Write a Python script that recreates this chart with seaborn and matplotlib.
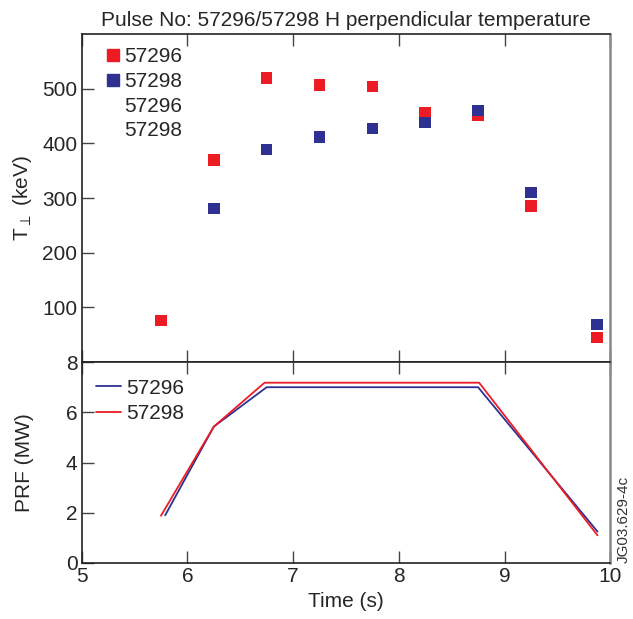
import matplotlib
matplotlib.use("Agg")
import matplotlib.pyplot as plt
from matplotlib.lines import Line2D
import seaborn as sns
import pandas as pd

# upper panel: H perpendicular temperature (keV)
time_pts = [5.75, 6.25, 6.75, 7.25, 7.75, 8.25, 8.75, 9.25, 9.875]
temp_57296 = [76, 370, 520, 507, 504, 456, 452, 286, 45]
time_57298 = [6.25, 6.75, 7.25, 7.75, 8.25, 8.75, 9.25, 9.875]
temp_57298 = [281, 389, 412, 427, 438, 460, 310, 69]

# lower panel: PRF (MW)
prf_time_57296 = [5.79, 6.25, 6.75, 8.75, 9.88]
prf_57296 = [1.9, 5.43, 7.0, 7.0, 1.25]
prf_time_57298 = [5.75, 6.25, 6.73, 8.76, 9.88]
prf_57298 = [1.88, 5.43, 7.18, 7.18, 1.1]

red = "#ED1C24"
blue = "#2E3192"

sns.set_theme(style="ticks")
plt.rcParams['font.family'] = ['Liberation Sans', 'DejaVu Sans']
plt.rcParams['mathtext.fontset'] = 'dejavusans'

df_t = pd.concat([
    pd.DataFrame({"Time": time_pts, "T": temp_57296, "Pulse": "57296"}),
    pd.DataFrame({"Time": time_57298, "T": temp_57298, "Pulse": "57298"}),
])
df_p = pd.concat([
    pd.DataFrame({"Time": prf_time_57296, "PRF": prf_57296, "Pulse": "57296"}),
    pd.DataFrame({"Time": prf_time_57298, "PRF": prf_57298, "Pulse": "57298"}),
])

fig = plt.figure(figsize=(6.33, 6.19), dpi=100)
ax1 = fig.add_axes([0.129, 0.415, 0.835, 0.530])
ax2 = fig.add_axes([0.129, 0.0905, 0.835, 0.3245], sharex=ax1)

fs = 15

sns.scatterplot(data=df_t, x="Time", y="T", hue="Pulse", marker="s", s=70,
                palette={"57296": red, "57298": blue}, linewidth=0,
                ax=ax1, legend=False)
ax1.set_xlim(5, 10)
ax1.set_ylim(0, 600)
ax1.set_yticks([100, 200, 300, 400, 500])
ax1.set_ylabel(r"T$_\perp$ (keV)", fontsize=fs)
ax1.set_xlabel("")
ax1.set_title("Pulse No: 57296/57298 H perpendicular temperature", fontsize=fs, pad=6)
ax1.tick_params(axis="x", labelbottom=False)

h = [Line2D([], [], marker="s", ls="", color=red, markersize=9),
     Line2D([], [], marker="s", ls="", color=blue, markersize=9),
     Line2D([], [], ls="", marker=""),
     Line2D([], [], ls="", marker="")]
ax1.legend(h, ["57296", "57298", "57296", "57298"], loc="upper left", frameon=False,
           fontsize=fs, handlelength=0.6, handletextpad=0.25, labelspacing=0.28,
           borderaxespad=0.3, bbox_to_anchor=(0.02, 1.005))

sns.lineplot(data=df_p, x="Time", y="PRF", hue="Pulse",
             palette={"57296": blue, "57298": red}, linewidth=1.3,
             ax=ax2, sort=False)
ax2.set_ylim(0, 8)
ax2.set_yticks([0, 2, 4, 6, 8])
ax2.set_xticks([5, 6, 7, 8, 9, 10])
ax2.set_xlabel("Time (s)", fontsize=fs)
ax2.set_ylabel("PRF (MW)", fontsize=fs)
ax2.legend(loc="upper left", frameon=False, fontsize=fs, handlelength=1.2,
           handletextpad=0.25, labelspacing=0.3, borderaxespad=0.3,
           bbox_to_anchor=(0.0, 0.99))

for ax in (ax1, ax2):
    ax.tick_params(direction="in", length=8.5, width=1, labelsize=fs,
                   top=True, color="#444444", pad=3)
    for sp in ax.spines.values():
        sp.set_linewidth(1.2)
        sp.set_color("#222222")
    ax.spines["right"].set_color("#888888")
    ax.spines["right"].set_linewidth(1.8)
    ax.yaxis.set_label_coords(-0.09, 0.5)

fig.text(0.985, 0.09, "JG03.629-4c", rotation=90, fontsize=11,
         ha="center", va="bottom", color="#333333")

fig.savefig("out.png", dpi=100)
